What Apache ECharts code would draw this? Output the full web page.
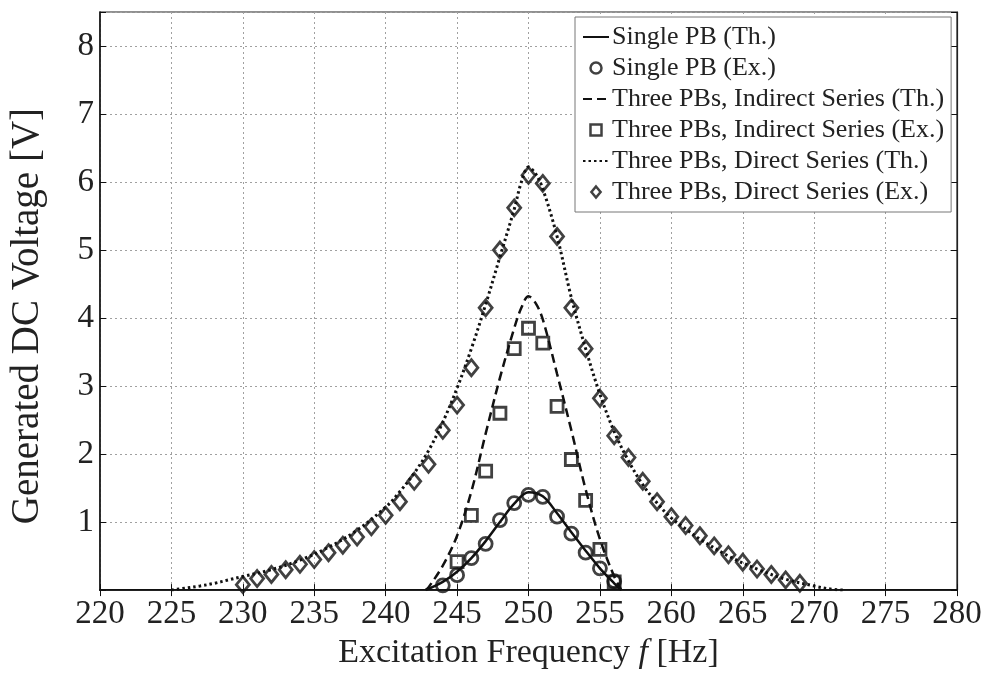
<!DOCTYPE html>
<html>
<head>
<meta charset="utf-8">
<script src="https://cdn.jsdelivr.net/npm/echarts@6/dist/echarts.min.js"></script>
<style>
  html, body { margin: 0; background: #fff; }
  #chart { width: 987px; height: 675px; }
</style>
</head>
<body>
<div id="chart"></div>
<script>
// single PB, theory (solid)
var singleThF = [242.8, 244, 245, 246, 247, 248, 249, 250, 251, 252, 253, 254, 255, 256, 256.5]
var singleThV = [0, 0.12, 0.27, 0.47, 0.72, 1.0, 1.27, 1.44, 1.38, 1.13, 0.85, 0.58, 0.32, 0.1, 0]

// single PB, experiment (circles)
var singleExF = [244, 245, 246, 247, 248, 249, 250, 251, 252, 253, 254, 255, 256]
var singleExV = [0.07, 0.22, 0.47, 0.68, 1.03, 1.28, 1.4, 1.37, 1.08, 0.83, 0.55, 0.32, 0.13]

// three PBs indirect series, theory (dashed)
var indirThF = [242.8, 243, 244, 245, 246, 247, 248, 249, 249.5, 250, 250.5, 251, 252, 253, 254, 255, 256, 256.5]
var indirThV = [0, 0.04, 0.36, 0.8, 1.45, 2.3, 3.12, 3.85, 4.15, 4.32, 4.22, 3.98, 3.18, 2.35, 1.48, 0.75, 0.2, 0]

// three PBs indirect series, experiment (squares)
var indirExF = [245, 246, 247, 248, 249, 250, 251, 252, 253, 254, 255, 256]
var indirExV = [0.42, 1.1, 1.75, 2.6, 3.55, 3.85, 3.63, 2.7, 1.92, 1.32, 0.6, 0.12]

// three PBs direct series, theory (dotted)
var directThF = [225, 226, 227, 228, 229, 230, 232, 234, 236, 238, 240, 241, 242, 243, 244, 245, 246, 247, 248, 249, 249.5, 250, 250.5, 251, 252, 253, 254, 255, 256, 257, 258, 259, 260, 261, 262, 264, 266, 268, 270, 271, 272]
var directThV = [0, 0.03, 0.06, 0.1, 0.15, 0.2, 0.3, 0.44, 0.63, 0.88, 1.22, 1.45, 1.72, 2.05, 2.47, 2.97, 3.55, 4.2, 4.9, 5.6, 6.0, 6.22, 6.12, 5.9, 5.2, 4.3, 3.55, 2.88, 2.33, 1.9, 1.55, 1.28, 1.06, 0.9, 0.75, 0.5, 0.31, 0.16, 0.06, 0.02, 0]

// three PBs direct series, experiment (diamonds)
var directExF = [230, 231, 232, 233, 234, 235, 236, 237, 238, 239, 240, 241, 242, 243, 244, 245, 246, 247, 248, 249, 250, 251, 252, 253, 254, 255, 256, 257, 258, 259, 260, 261, 262, 263, 264, 265, 266, 267, 268, 269]
var directExV = [0.08, 0.17, 0.23, 0.3, 0.38, 0.45, 0.55, 0.66, 0.78, 0.93, 1.1, 1.3, 1.6, 1.85, 2.35, 2.72, 3.27, 4.15, 5.0, 5.62, 6.1, 5.98, 5.2, 4.15, 3.55, 2.82, 2.27, 1.95, 1.6, 1.3, 1.08, 0.95, 0.8, 0.65, 0.52, 0.41, 0.31, 0.23, 0.15, 0.1]

var legendNames = [
    'Single PB (Th.)',
    'Single PB (Ex.)',
    'Three PBs, Indirect Series (Th.)',
    'Three PBs, Indirect Series (Ex.)',
    'Three PBs, Direct Series (Th.)',
    'Three PBs, Direct Series (Ex.)'
]

var serif = '"Liberation Serif", "Times New Roman", serif'
var ink = '#111'

// legend marker shapes, kept square-ish so they don't stretch to itemWidth
var squareIcon = 'path://M0,0H10V10H0Z'
var diamondIcon = 'path://M5,0L10,6L5,12L0,6Z'
var hideDot = { color: 'rgba(0,0,0,0)', borderWidth: 0, opacity: 0 }
var boldMark = { color: 'rgba(255,255,255,0)', borderColor: ink, borderWidth: 2.5 }

function pairs(xs, ys) {
    return xs.map(function (x, i) { return [x, ys[i]] })
}

function theory(name, xs, ys, dash, width) {
    return {
        name: name,
        type: 'line',
        data: pairs(xs, ys),
        smooth: 0.35,
        symbol: 'none',
        lineStyle: { color: ink, width: width, type: dash },
        itemStyle: { color: ink },
        z: 2
    }
}

function experiment(name, xs, ys, symbol, size) {
    return {
        name: name,
        type: 'scatter',
        data: pairs(xs, ys),
        symbol: symbol,
        symbolSize: size,
        itemStyle: { color: 'rgba(255,255,255,0)', borderColor: ink, borderWidth: 2.8 },
        z: 3
    }
}

var chart = echarts.init(document.getElementById('chart'))

var option = {
    animation: false,
    backgroundColor: '#fff',
    textStyle: { fontFamily: serif },
    grid: { left: 99, right: 30, top: 12, bottom: 74, show: true, borderColor: '#222', borderWidth: 1.2 },
    legend: {
        data: [
            { name: legendNames[0], itemStyle: hideDot },
            { name: legendNames[1], itemStyle: boldMark },
            { name: legendNames[2], itemStyle: hideDot },
            { name: legendNames[3], icon: squareIcon, itemStyle: boldMark },
            { name: legendNames[4], itemStyle: hideDot },
            { name: legendNames[5], icon: diamondIcon, itemStyle: boldMark }
        ],
        orient: 'vertical',
        left: 575,
        top: 17,
        padding: [7, 7, 7, 7],
        itemGap: 5,
        itemWidth: 26,
        itemHeight: 11,
        symbolKeepAspect: true,
        backgroundColor: '#fff',
        borderColor: '#777',
        borderWidth: 1,
        textStyle: { fontFamily: serif, fontSize: 26, color: '#222', padding: [0, 0, 0, -2] }
    },
    xAxis: [
        {
            type: 'value',
            min: 220,
            max: 280,
            interval: 5,
            name: 'Excitation Frequency {i|f} [Hz]',
            nameLocation: 'middle',
            nameGap: 34,
            nameTextStyle: {
                fontFamily: serif, fontSize: 34, color: '#222',
                rich: { i: { fontFamily: serif, fontSize: 34, fontStyle: 'italic', color: '#222' } }
            },
            axisLine: { show: true, lineStyle: { color: '#111', width: 2 } },
            axisTick: { show: true, inside: true, length: 6, lineStyle: { color: '#111' } },
            axisLabel: { fontFamily: serif, fontSize: 33, color: '#222', margin: 8 },
            splitLine: { show: true, lineStyle: { color: '#a0a0a0', type: [2, 3], width: 1 } }
        },
        {
            type: 'value',
            position: 'top',
            min: 220,
            max: 280,
            interval: 5,
            axisLine: { show: true, lineStyle: { color: '#222', width: 1.2 } },
            axisTick: { show: true, inside: true, length: 6, lineStyle: { color: '#111' } },
            axisLabel: { show: false },
            splitLine: { show: false }
        }
    ],
    yAxis: [
        {
            type: 'value',
            min: 0,
            max: 8.5,
            interval: 1,
            name: 'Generated DC Voltage [V]',
            nameLocation: 'middle',
            nameGap: 53,
            nameTextStyle: { fontFamily: serif, fontSize: 39, color: '#222', padding: [0, 30, 0, 0] },
            axisLine: { show: true, lineStyle: { color: '#111', width: 1.5 } },
            axisTick: { show: true, inside: true, length: 6, lineStyle: { color: '#111' } },
            axisLabel: {
                fontFamily: serif, fontSize: 33, color: '#222', margin: 6,
                formatter: function (v) { return (v === 0 || v > 8) ? '' : String(v) }
            },
            splitLine: { show: true, lineStyle: { color: '#a0a0a0', type: [2, 3], width: 1 } }
        },
        {
            type: 'value',
            position: 'right',
            min: 0,
            max: 8.5,
            interval: 1,
            axisLine: { show: true, lineStyle: { color: '#222', width: 1.2 } },
            axisTick: { show: true, inside: true, length: 6, lineStyle: { color: '#111' } },
            axisLabel: { show: false },
            splitLine: { show: false }
        }
    ],
    series: [
        theory(legendNames[0], singleThF, singleThV, 'solid', 2.5),
        experiment(legendNames[1], singleExF, singleExV, 'circle', 13),
        theory(legendNames[2], indirThF, indirThV, [9, 5], 2.5),
        experiment(legendNames[3], indirExF, indirExV, 'rect', 12),
        theory(legendNames[4], directThF, directThV, [2.5, 3], 3),
        experiment(legendNames[5], directExF, directExV, 'diamond', [13, 16])
    ]
}

chart.setOption(option)
</script>
</body>
</html>
